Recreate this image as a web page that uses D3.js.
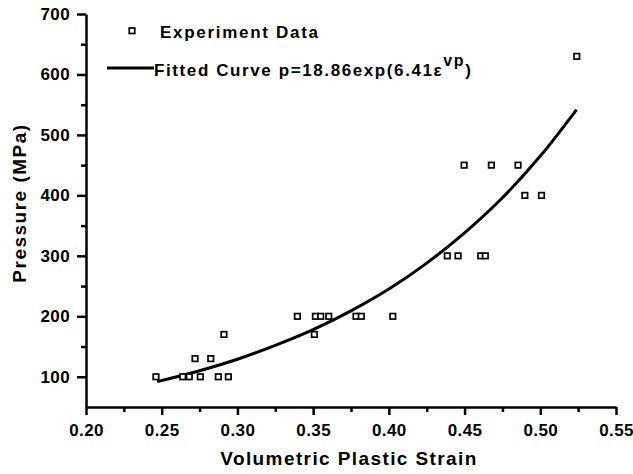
<!DOCTYPE html>
<html>
<head>
<meta charset="utf-8">
<script src="https://cdn.jsdelivr.net/npm/d3@7"></script>
<style>
  body { margin: 0; background: #fff; }
  text { font-family: "Liberation Sans", Arial, sans-serif; font-weight: bold; fill: #000; }
</style>
</head>
<body>
<div id="chart"></div>
<script>
// experiment data (volumetric plastic strain, pressure MPa)
var strain = [0.2462, 0.2639, 0.2682, 0.2755, 0.2874, 0.2940,
              0.2720, 0.2824, 0.2911,
              0.3396, 0.3515, 0.3550, 0.3603, 0.3783, 0.3818, 0.4026, 0.3508,
              0.4386, 0.4457, 0.4607, 0.4637,
              0.4898, 0.5008,
              0.4497, 0.4677, 0.4853,
              0.5241];
var pressure = [100, 100, 100, 100, 100, 100,
                130, 130, 170,
                200, 200, 200, 200, 200, 200, 200, 170,
                300, 300, 300, 300,
                400, 400,
                450, 450, 450,
                630];

// fitted curve
var curveX = [0.247, 0.275, 0.300, 0.325, 0.350, 0.375, 0.400, 0.425, 0.450, 0.475, 0.500, 0.524];
var curveY = [92, 110, 129, 152, 178, 209, 245, 288, 338, 396, 465, 542];

var xTicks = [0.20, 0.25, 0.30, 0.35, 0.40, 0.45, 0.50, 0.55];
var xMinor = [0.225, 0.275, 0.325, 0.375, 0.425, 0.475, 0.525];
var yTicks = [100, 200, 300, 400, 500, 600, 700];
var yMinor = [150, 250, 350, 450, 550, 650];

var svgWidth = 633, svgHeight = 474;
var margin = { top: 14, right: 17, bottom: 67, left: 86 };
var width = svgWidth - margin.left - margin.right;
var height = svgHeight - margin.top - margin.bottom;

var svg = d3.select("#chart").append("svg")
    .attr("width", svgWidth)
    .attr("height", svgHeight);

var chartGroup = svg.append("g")
    .attr("transform", `translate(${margin.left}, ${margin.top})`);

var x = d3.scaleLinear().domain([0.20, 0.55]).range([0, width]);
var y = d3.scaleLinear().domain([50, 700]).range([height, 0]);

// minor ticks
chartGroup.append("g")
    .attr("transform", `translate(0, ${height})`)
    .call(d3.axisBottom(x).tickValues(xMinor).tickSize(5).tickFormat(""))
    .call(g => g.select(".domain").remove())
    .selectAll("line").attr("stroke-width", 2.5);

chartGroup.append("g")
    .call(d3.axisLeft(y).tickValues(yMinor).tickSize(5).tickFormat(""))
    .call(g => g.select(".domain").remove())
    .selectAll("line").attr("stroke-width", 2.5);

// major axes
var xAxis = chartGroup.append("g")
    .attr("transform", `translate(0, ${height})`)
    .call(d3.axisBottom(x).tickValues(xTicks).tickSize(8).tickSizeOuter(0).tickPadding(9)
        .tickFormat(d3.format(".2f")));

var yAxis = chartGroup.append("g")
    .call(d3.axisLeft(y).tickValues(yTicks).tickSize(9).tickSizeOuter(0).tickPadding(7)
        .tickFormat(d3.format("d")));

[xAxis, yAxis].forEach(function(a) {
  a.select(".domain").attr("stroke-width", 2.5);
  a.selectAll("line").attr("stroke-width", 2.5);
  a.selectAll("text")
    .attr("font-size", "17px")
    .style("letter-spacing", "0.4px")
    .attr("font-family", null);
});

// fitted curve
var line = d3.line()
    .x((d, i) => x(curveX[i]))
    .y(d => y(d))
    .curve(d3.curveMonotoneX);

chartGroup.append("path")
    .datum(curveY)
    .attr("fill", "none")
    .attr("stroke", "#000")
    .attr("stroke-width", 3)
    .attr("d", line);

// data points
chartGroup.selectAll("rect.pt")
    .data(pressure)
    .enter()
    .append("rect")
    .attr("class", "pt")
    .attr("x", (d, i) => x(strain[i]) - 2.75)
    .attr("y", d => y(d) - 2.75)
    .attr("width", 5.5)
    .attr("height", 5.5)
    .attr("fill", "#fff")
    .attr("stroke", "#000")
    .attr("stroke-width", 1.7);

// axis titles
svg.append("text")
    .attr("x", 349)
    .attr("y", 465)
    .attr("text-anchor", "middle")
    .attr("font-size", "19px")
    .style("letter-spacing", "1.4px")
    .text("Volumetric Plastic Strain");

svg.append("text")
    .attr("transform", "translate(26, 203)rotate(-90)")
    .attr("text-anchor", "middle")
    .attr("font-size", "19px")
    .style("letter-spacing", "1.5px")
    .text("Pressure (MPa)");

// legend
var legend = svg.append("g");
legend.append("rect")
    .attr("x", 129.25).attr("y", 28)
    .attr("width", 5.5).attr("height", 5.5)
    .attr("fill", "#fff").attr("stroke", "#000").attr("stroke-width", 1.7);
legend.append("text")
    .attr("x", 160).attr("y", 37.5)
    .attr("font-size", "17px")
    .style("letter-spacing", "1.7px")
    .text("Experiment Data");

legend.append("line")
    .attr("x1", 107).attr("x2", 154)
    .attr("y1", 68).attr("y2", 68)
    .attr("stroke", "#000").attr("stroke-width", 3);
var fitText = legend.append("text")
    .attr("x", 154).attr("y", 75.5)
    .attr("font-size", "17px")
    .style("letter-spacing", "1.6px");
fitText.append("tspan").text("Fitted Curve p=18.86exp(6.41\u03b5");
fitText.append("tspan").attr("dy", -10).attr("font-size", "16px").text("vp");
fitText.append("tspan").attr("dy", 10).text(")");
</script>
</body>
</html>
